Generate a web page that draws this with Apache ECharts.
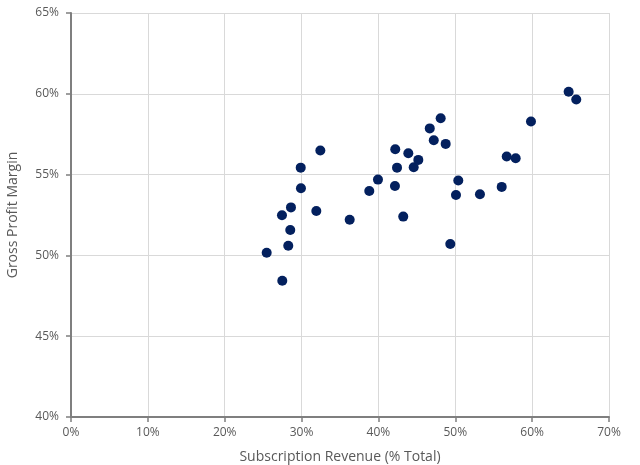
<!DOCTYPE html>
<html>
<head>
<meta charset="utf-8">
<script src="https://cdn.jsdelivr.net/npm/echarts@6/dist/echarts.min.js"></script>
<style>html,body{margin:0;padding:0;background:#fff;}#c{width:640px;height:465px;}</style>
</head>
<body>
<div id="c"></div>
<script>
const subscriptionRevenue = [25.46,27.49,28.27,28.53,27.45,28.62,29.89,29.92,31.92,32.44,36.26,38.81,39.94,42.19,42.42,42.15,43.23,43.89,44.59,45.19,46.68,47.20,48.10,48.75,49.35,50.09,50.39,53.21,56.04,56.69,57.86,59.85,64.75,65.74];
const grossMargin = [50.16,48.43,50.60,51.57,52.48,52.97,55.43,54.15,52.75,56.49,52.21,53.99,54.69,56.57,55.43,54.30,52.40,56.32,55.45,55.91,57.86,57.13,58.49,56.90,50.70,53.74,54.63,53.78,54.24,56.12,56.01,58.29,60.13,59.65];
const xAxisTitle = 'Subscription Revenue (% Total)';
const yAxisTitle = 'Gross Profit Margin';

const points = subscriptionRevenue.map((x, i) => [x, grossMargin[i]]);
const font = 'Open Sans';
const chart = echarts.init(document.getElementById('c'));
chart.setOption({
  animation: false,
  grid: {left: 71, right: 31, top: 13, bottom: 48, containLabel: false, outerBoundsMode: 'none'},
  xAxis: {
    type: 'value', min: 0, max: 70, interval: 10,
    name: xAxisTitle, nameLocation: 'middle', nameGap: 33,
    nameTextStyle: {color: '#595959', fontSize: 14, fontFamily: font},
    axisLine: {show: true, lineStyle: {color: '#7F7F7F', width: 2}},
    axisTick: {show: true, length: 5, lineStyle: {color: '#7F7F7F', width: 1.5}},
    axisLabel: {formatter: '{value}%', color: '#595959', fontSize: 12, fontFamily: font, margin: 10},
    splitLine: {show: true, lineStyle: {color: '#D9D9D9', width: 1}}
  },
  yAxis: {
    type: 'value', min: 40, max: 65, interval: 5,
    name: yAxisTitle, nameLocation: 'middle', nameGap: 51, nameRotate: 90,
    nameTextStyle: {color: '#595959', fontSize: 14, fontFamily: font},
    axisLine: {show: true, lineStyle: {color: '#7F7F7F', width: 2}},
    axisTick: {show: true, length: 5, lineStyle: {color: '#7F7F7F', width: 1.5}},
    axisLabel: {formatter: '{value}%', color: '#595959', fontSize: 12, fontFamily: font, margin: 12},
    splitLine: {show: true, lineStyle: {color: '#D9D9D9', width: 1}}
  },
  series: [{
    type: 'scatter',
    data: points,
    symbol: 'circle',
    symbolSize: 10,
    itemStyle: {color: '#03205E', opacity: 1}
  }]
});
</script>
</body>
</html>
